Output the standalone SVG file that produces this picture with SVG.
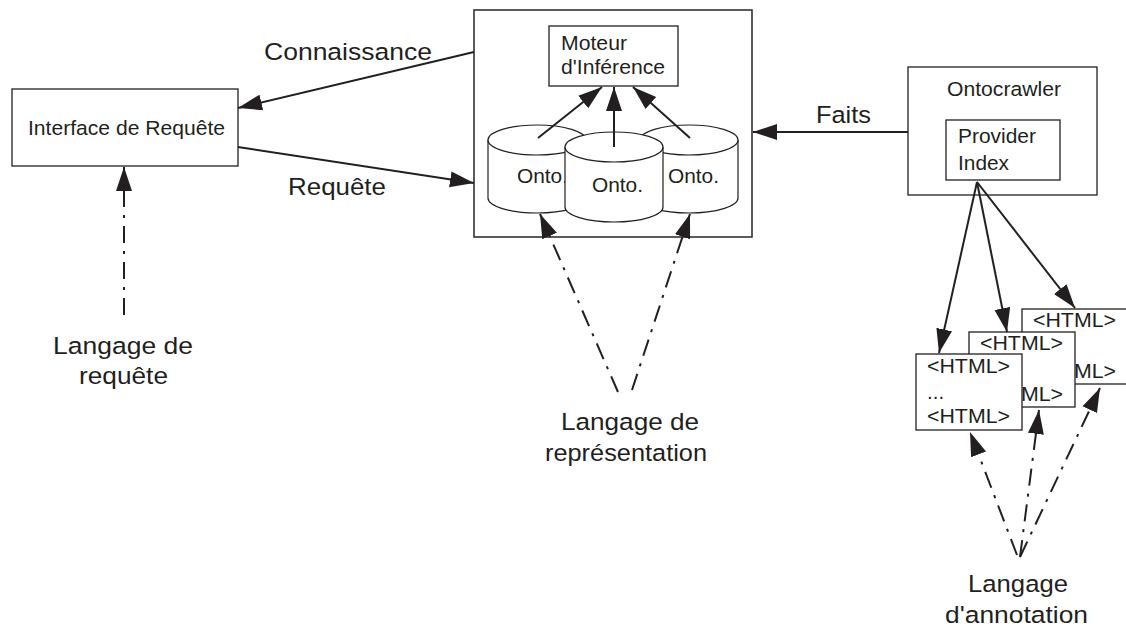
<svg xmlns="http://www.w3.org/2000/svg" width="1126" height="628" viewBox="0 0 1126 628">
<style>
.box{fill:#fff;stroke:#231f20;stroke-width:1.3}
.frame{fill:#fff;stroke:#333;stroke-width:1.6}
.t{font-family:"Liberation Sans",Arial,sans-serif;font-size:20.5px;fill:#231f20}
.L{font-family:"Liberation Sans",Arial,sans-serif;font-size:24.5px;fill:#231f20}
.c{fill:none;stroke:#231f20;stroke-width:2}
.dd{fill:none;stroke:#231f20;stroke-width:2;stroke-dasharray:17 8 3 8}
.cyl{fill:#fff;stroke:#231f20;stroke-width:1.2}
</style>
<defs>
<marker id="ah" markerUnits="userSpaceOnUse" markerWidth="26" markerHeight="18" refX="24" refY="8" orient="auto">
<path d="M0,0 L24,8 L0,16 z" fill="#231f20"/>
</marker>
</defs>
<rect width="1126" height="628" fill="#fff"/>

<g id="main">
<rect class="frame" x="474" y="10" width="278" height="227"/>
</g>

<g id="moteur">
<rect class="box" x="549" y="26" width="129" height="60"/>
<text class="t" x="561" y="50" textLength="66" lengthAdjust="spacingAndGlyphs">Moteur</text>
<text class="t" x="561" y="74" textLength="104" lengthAdjust="spacingAndGlyphs">d'Inférence</text>
</g>

<g id="onto-left">
<path class="cyl" d="M488,140 A49,15 0 0 1 586,140 L586,198 A49,15 0 0 1 488,198 Z"/>
<path class="cyl" d="M488,140 A49,15 0 0 0 586,140"/>
<text class="t" x="517" y="183" textLength="51" lengthAdjust="spacingAndGlyphs">Onto.</text>
</g>
<g id="onto-right">
<path class="cyl" d="M640,140 A49,15 0 0 1 738,140 L738,198 A49,15 0 0 1 640,198 Z"/>
<path class="cyl" d="M640,140 A49,15 0 0 0 738,140"/>
<text class="t" x="668" y="183" textLength="51" lengthAdjust="spacingAndGlyphs">Onto.</text>
</g>
<g id="onto-center">
<path class="cyl" d="M565,147 A49,15 0 0 1 663,147 L663,207 A49,15 0 0 1 565,207 Z"/>
<path class="cyl" d="M565,147 A49,15 0 0 0 663,147"/>
<text class="t" x="592" y="192" textLength="51" lengthAdjust="spacingAndGlyphs">Onto.</text>
</g>

<g id="interface">
<rect class="box" x="12" y="89" width="226" height="77"/>
<text class="t" x="28" y="135" textLength="197" lengthAdjust="spacingAndGlyphs">Interface de Requête</text>
</g>

<g id="ontocrawler">
<rect class="box" x="908" y="67" width="189" height="128"/>
<text class="t" x="947" y="96" textLength="114" lengthAdjust="spacingAndGlyphs">Ontocrawler</text>
</g>
<g id="provider">
<rect class="box" x="946" y="120" width="114" height="60"/>
<text class="t" x="958" y="143" textLength="78" lengthAdjust="spacingAndGlyphs">Provider</text>
<text class="t" x="958" y="170" textLength="51" lengthAdjust="spacingAndGlyphs">Index</text>
</g>

<g id="html3">
<rect class="box" x="1022" y="309" width="108" height="75"/>
<text class="t" x="1033" y="327" textLength="83" lengthAdjust="spacingAndGlyphs">&lt;HTML&gt;</text>
<text class="t" x="1033" y="378" textLength="83" lengthAdjust="spacingAndGlyphs">&lt;HTML&gt;</text>
</g>
<g id="html2">
<rect class="box" x="969" y="332" width="106" height="75"/>
<text class="t" x="980" y="350" textLength="83" lengthAdjust="spacingAndGlyphs">&lt;HTML&gt;</text>
<text class="t" x="980" y="401" textLength="83" lengthAdjust="spacingAndGlyphs">&lt;HTML&gt;</text>
</g>
<g id="html1">
<rect class="box" x="916" y="354" width="106" height="76"/>
<text class="t" x="927" y="373" textLength="83" lengthAdjust="spacingAndGlyphs">&lt;HTML&gt;</text>
<text class="t" x="927" y="399">...</text>
<text class="t" x="927" y="423" textLength="83" lengthAdjust="spacingAndGlyphs">&lt;HTML&gt;</text>
</g>

<g id="labels">
<text class="L" x="264" y="60" textLength="168" lengthAdjust="spacingAndGlyphs">Connaissance</text>
<text class="L" x="288" y="195" textLength="98" lengthAdjust="spacingAndGlyphs">Requête</text>
<text class="L" x="816" y="123" textLength="55" lengthAdjust="spacingAndGlyphs">Faits</text>
<text class="L" x="53" y="354" textLength="140" lengthAdjust="spacingAndGlyphs">Langage de</text>
<text class="L" x="79" y="384" textLength="89" lengthAdjust="spacingAndGlyphs">requête</text>
<text class="L" x="561" y="430" textLength="138" lengthAdjust="spacingAndGlyphs">Langage de</text>
<text class="L" x="545" y="461" textLength="162" lengthAdjust="spacingAndGlyphs">représentation</text>
<text class="L" x="968" y="592" textLength="100" lengthAdjust="spacingAndGlyphs">Langage</text>
<text class="L" x="945" y="623" textLength="143" lengthAdjust="spacingAndGlyphs">d'annotation</text>
</g>

<g id="connectors">
<line class="c" x1="474" y1="52" x2="238" y2="108" marker-end="url(#ah)"/>
<line class="c" x1="238" y1="147" x2="474" y2="183" marker-end="url(#ah)"/>
<line class="c" x1="908" y1="132" x2="753" y2="132" marker-end="url(#ah)"/>
<line class="c" x1="538" y1="138" x2="602" y2="87" marker-end="url(#ah)"/>
<line class="c" x1="614" y1="147" x2="614" y2="87" marker-end="url(#ah)"/>
<line class="c" x1="690" y1="138" x2="633" y2="87" marker-end="url(#ah)"/>
<line class="c" x1="977" y1="182" x2="939" y2="353" marker-end="url(#ah)"/>
<line class="c" x1="977" y1="182" x2="1007" y2="332" marker-end="url(#ah)"/>
<line class="c" x1="977" y1="182" x2="1075" y2="308" marker-end="url(#ah)"/>
<line class="dd" x1="124" y1="315" x2="124" y2="167" marker-end="url(#ah)"/>
<line class="dd" x1="618" y1="392" x2="540" y2="214" marker-end="url(#ah)"/>
<line class="dd" x1="632" y1="390" x2="690" y2="214" marker-end="url(#ah)"/>
<line class="dd" x1="1017" y1="555" x2="970" y2="432" marker-end="url(#ah)"/>
<line class="dd" x1="1020" y1="557" x2="1039" y2="410" marker-end="url(#ah)"/>
<line class="dd" x1="1020" y1="557" x2="1100" y2="388" marker-end="url(#ah)"/>
</g>
</svg>
